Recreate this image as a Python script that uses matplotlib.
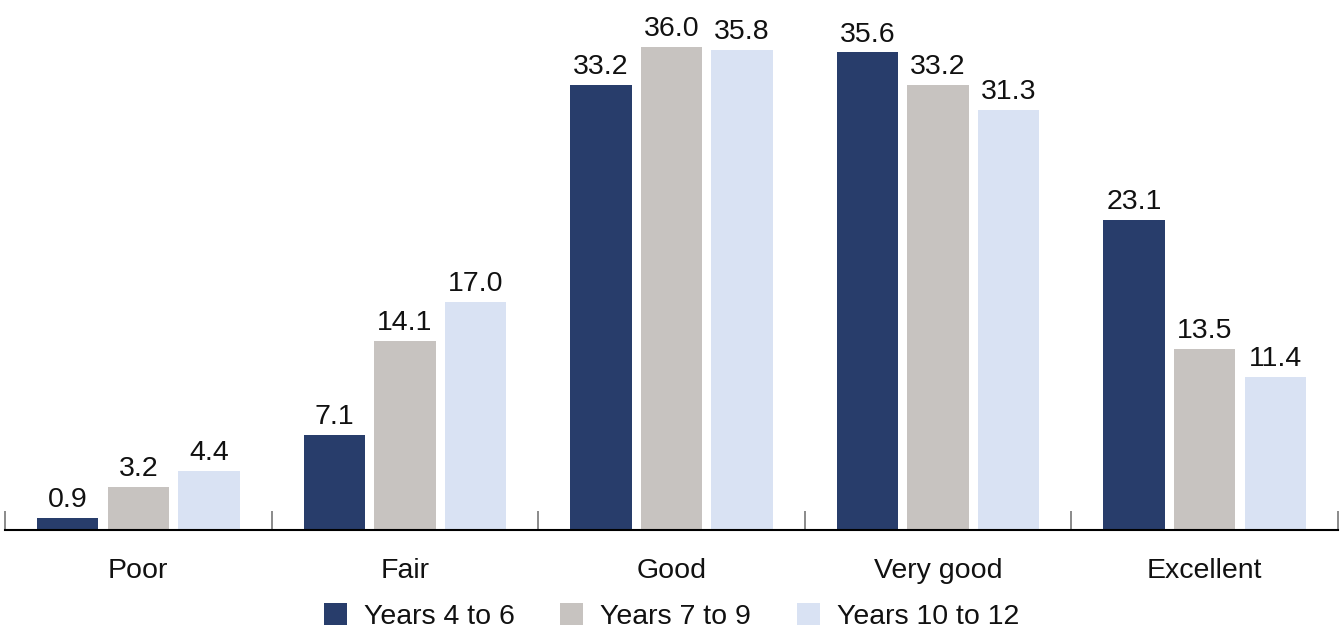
import matplotlib.pyplot as plt
import numpy as np

plt.rcParams['font.family'] = ['Liberation Sans', 'DejaVu Sans']

cats = ['Poor', 'Fair', 'Good', 'Very good', 'Excellent']
series = ['Years 4 to 6', 'Years 7 to 9', 'Years 10 to 12']
y46 = [0.9, 7.1, 33.2, 35.6, 23.1]
y79 = [3.2, 14.1, 36.0, 33.2, 13.5]
y1012 = [4.4, 17.0, 35.8, 31.3, 11.4]
colors = ['#283d6b', '#c7c3c0', '#d9e2f3']
fs = 20.5

fig = plt.figure(figsize=(13.43, 6.28), dpi=100)
ax = fig.add_axes([5/1343, 98/628, 1333/1343, 530/628])

x = np.arange(len(cats))
offs = [-0.265, 0, 0.265]
for vals, off, c, name in zip([y46, y79, y1012], offs, colors, series):
    bars = ax.bar(x + off, vals, width=0.23, color=c, label=name)
    for b, v in zip(bars, vals):
        ax.text(b.get_x() + b.get_width()/2, v + 0.35, f'{v:.1f}', ha='center', va='bottom',
                fontsize=fs, color='#111111')

ax.set_xlim(-0.5, len(cats) - 0.5)
ax.set_ylim(0, 39.5)
for s in ['top', 'right', 'left']:
    ax.spines[s].set_visible(False)
ax.spines['bottom'].set_linewidth(1.5)
ax.set_yticks([])
ax.set_xticks(np.arange(len(cats) + 1) - 0.5, minor=False)
ax.set_xticklabels([])
ax.tick_params(axis='x', direction='in', length=14, width=1.2, color='#777777')
ax.set_xticks(x, minor=True)
ax.set_xticklabels(cats, minor=True)
ax.tick_params(axis='x', which='minor', length=0, pad=20, labelsize=fs, labelcolor='#111111')

leg = ax.legend(loc='upper center', bbox_to_anchor=(0.5, -0.1), ncol=3, frameon=False,
                prop={'size': fs}, handlelength=0.8, handleheight=0.8,
                handletextpad=0.6, columnspacing=1.6, borderpad=0.2)
for t in leg.get_texts():
    t.set_color('#111111')

fig.savefig('out.png', dpi=100)
